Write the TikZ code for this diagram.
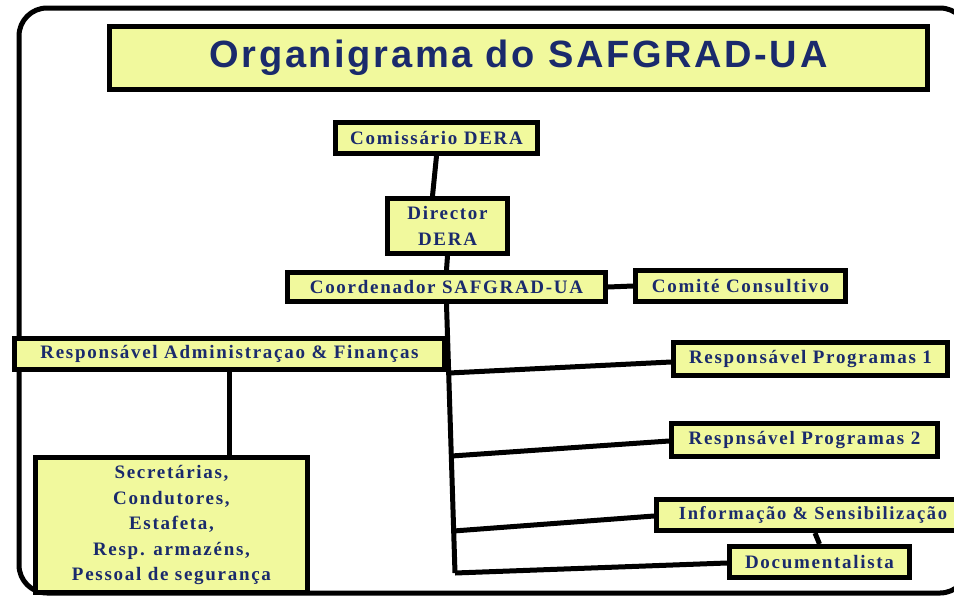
\documentclass[tikz,border=0pt]{standalone}
\usepackage{fontspec}
\setmainfont{Liberation Serif}
\newfontfamily\titlefont[LetterSpace=7]{Liberation Sans}
\newfontfamily\boxfont[LetterSpace=9]{Liberation Serif}
\definecolor{boxfill}{HTML}{F1F99D}
\definecolor{navy}{HTML}{1A2A6C}
\tikzset{
  orgbox/.style={draw=black, line width=5pt, fill=boxfill, rectangle, inner sep=0pt,
    text=navy, font=\boxfont\bfseries\fontsize{19}{25.5}\selectfont, align=center},
  conn/.style={line width=5pt}
}
\begin{document}
\begin{tikzpicture}[x=1pt,y=-1pt]
\useasboundingbox (0,0) rectangle (954,598);
\clip (0,0) rectangle (954,598);
\fill[white] (0,0) rectangle (954,598);
\draw[line width=5pt, rounded corners=28pt] (19,8) rectangle (968,593);

\node[orgbox, minimum width=818pt, minimum height=63pt,
  font=\titlefont\bfseries\fontsize{38}{44}\selectfont] (title) at (518.5,58) {Organigrama do SAFGRAD-UA};
\node[orgbox, minimum width=202pt, minimum height=31pt] (com) at (436.5,138) {Comissário DERA};
\node[orgbox, minimum width=120pt, minimum height=55pt] (dir) at (447.5,226) {Director\\DERA};
\node[orgbox, minimum width=318pt, minimum height=29pt] (coord) at (446.5,287) {Coordenador SAFGRAD-UA};
\node[orgbox, minimum width=210pt, minimum height=31pt] (comite) at (740.5,286) {Comité Consultivo};
\node[orgbox, minimum width=430pt, minimum height=31pt] (admin) at (229.5,354) {Responsável Administraçao \& Finanças};
\node[orgbox, minimum width=272pt, minimum height=135pt] (sec) at (171.5,525) {Secretárias,\\Condutores,\\Estafeta,\\Resp. armazéns,\\Pessoal de segurança};
\node[orgbox, minimum width=274pt, minimum height=33pt] (rp1) at (810.5,359) {Responsável Programas 1};
\node[orgbox, minimum width=266pt, minimum height=33pt] (rp2) at (804.5,440) {Respnsável Programas 2};
\node[orgbox, minimum width=313pt, minimum height=31pt,
  font=\boxfont\bfseries\fontsize{18.5}{25}\selectfont] (info) at (813,515) {Informação \& Sensibilização};
\node[orgbox, minimum width=180pt, minimum height=31pt] (doc) at (819.5,562) {Documentalista};

\coordinate (tb) at (455,573);
\coordinate (a1) at (449,373);
\coordinate (a2) at (451.5,456);
\coordinate (a3) at (453.5,531);
\draw[conn] (coord.south) -- (tb);
\draw[conn] (a1) -- ([yshift=-3pt]rp1.west);
\draw[conn] (a2) -- ([yshift=-1pt]rp2.west);
\draw[conn] (a3) -- ([yshift=-1pt]info.west);
\draw[conn] (tb) -- ([yshift=-1pt]doc.west);
\draw[conn] (com.south) -- ([xshift=-15pt]dir.north);
\draw[conn] (dir.south) -- (coord.north);
\draw[conn] (coord.east) -- (comite.west);
\draw[conn] (admin.south) -- (admin.south |- sec.north);
\draw[conn] ([xshift=2pt]info.south) -- (doc.north);
\end{tikzpicture}
\end{document}
